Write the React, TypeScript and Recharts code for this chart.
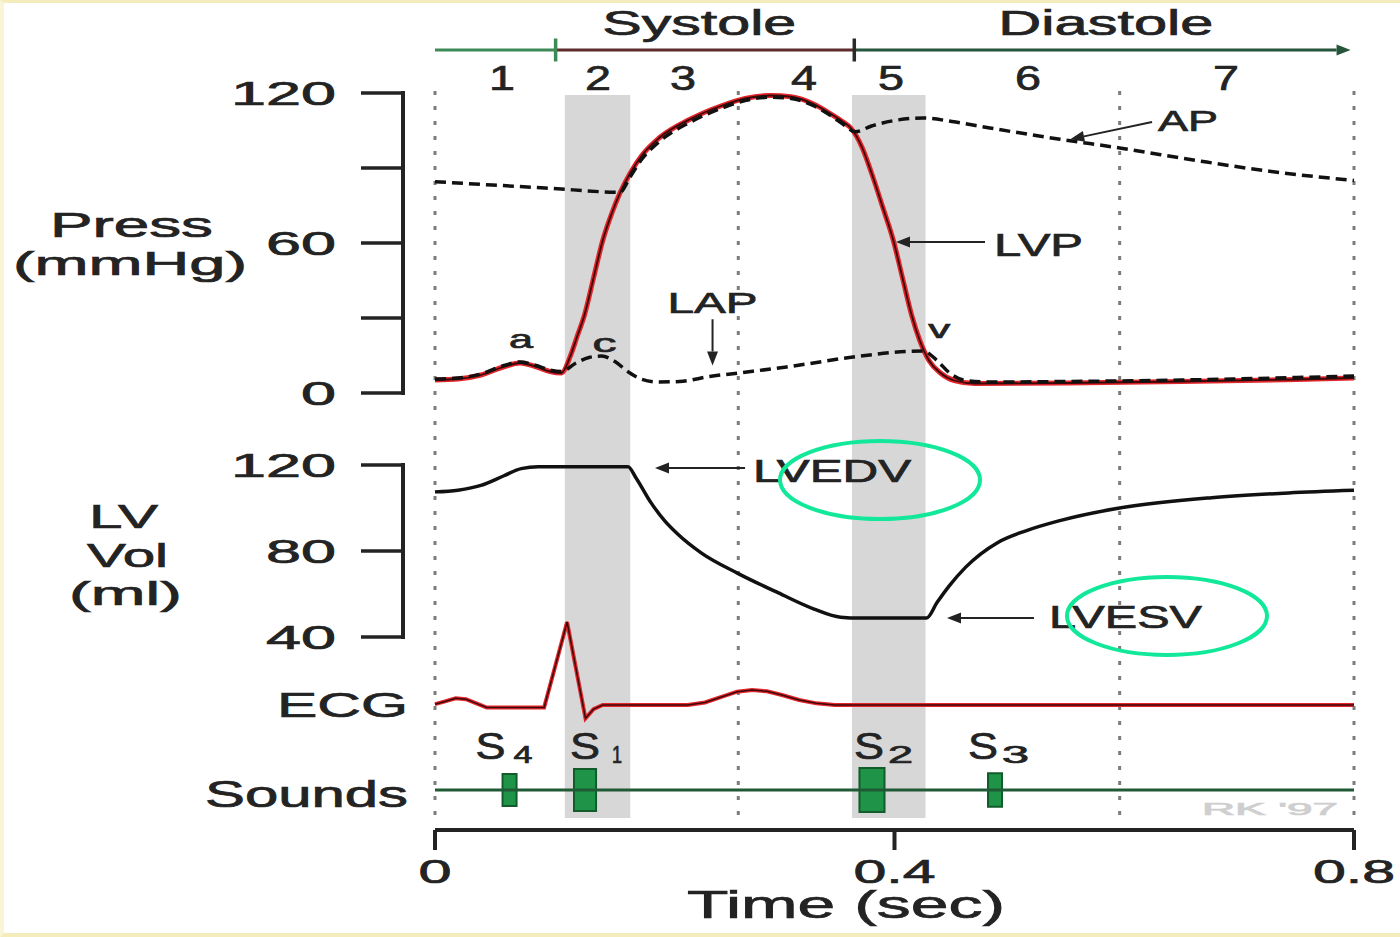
import React from "react";
import {
  ComposedChart,
  Line,
  XAxis,
  YAxis,
  ReferenceLine,
  ReferenceArea,
  ReferenceDot,
} from "recharts";

// ---------- data (time in s) ----------
const LVP_T = [0, 0.02, 0.04, 0.06, 0.074, 0.088, 0.1, 0.11, 0.118, 0.124, 0.13, 0.138, 0.146, 0.154, 0.161, 0.17, 0.18, 0.195, 0.222, 0.25, 0.27, 0.292, 0.31, 0.33, 0.345, 0.355, 0.362, 0.372, 0.38, 0.39, 0.399, 0.407, 0.415, 0.422, 0.43, 0.44, 0.452, 0.47, 0.55, 0.65, 0.75, 0.8];
const LVP = [5.2, 5.6, 7.2, 10.5, 12, 10.5, 8.6, 8, 15, 23, 31, 46, 61, 72, 80, 88, 95, 102, 109.5, 115, 117.8, 119, 118.5, 115.5, 111.5, 108.5, 106, 98, 88, 74, 61, 46, 31, 21, 13, 8, 5, 3.8, 4, 4.6, 5.4, 6];

const AP_T = [0, 0.05, 0.1, 0.161, 0.17, 0.18, 0.195, 0.222, 0.25, 0.27, 0.292, 0.31, 0.33, 0.345, 0.355, 0.366, 0.38, 0.4, 0.425, 0.45, 0.483, 0.544, 0.596, 0.667, 0.728, 0.8];
const AP = [84.5, 83.2, 81.9, 80.3, 86.5, 93.5, 100.5, 108.3, 114, 117, 118.3, 117.8, 114.8, 110.8, 107.6, 104.5, 106.8, 109, 110, 108.6, 106, 101.5, 98, 92.7, 88.6, 85];

const LAP_T = [0, 0.02, 0.04, 0.06, 0.074, 0.088, 0.1, 0.11, 0.122, 0.134, 0.145, 0.157, 0.168, 0.18, 0.195, 0.213, 0.239, 0.264, 0.306, 0.364, 0.41, 0.425, 0.437, 0.448, 0.46, 0.48, 0.55, 0.65, 0.75, 0.8];
const LAP = [5.6, 6, 7.6, 11, 12.4, 11, 9.2, 8.6, 11.8, 14.2, 14.8, 12.5, 8.5, 5.5, 4.4, 4.6, 6.6, 8, 10.4, 14.4, 16.6, 16.8, 13, 8, 5.2, 4.4, 4.6, 5.2, 6.2, 6.8];

const VOL_T = [0, 0.02, 0.04, 0.06, 0.075, 0.09, 0.168, 0.175, 0.188, 0.2, 0.211, 0.232, 0.264, 0.299, 0.33, 0.353, 0.37, 0.428, 0.437, 0.448, 0.462, 0.49, 0.515, 0.543, 0.596, 0.676, 0.743, 0.8];
const VOL = [107.5, 108.3, 110.5, 115, 118.3, 119.2, 119.2, 114, 102.5, 94, 88, 79, 69.5, 60.5, 53, 49.2, 48.8, 48.8, 56, 64, 72.5, 84, 89.5, 94, 100, 104.8, 107, 108.2];

const ECG_T = [0, 0.008, 0.018, 0.027, 0.036, 0.045, 0.06, 0.095, 0.115, 0.131, 0.138, 0.146, 0.22, 0.235, 0.25, 0.263, 0.276, 0.289, 0.302, 0.317, 0.332, 0.348, 0.8];
const ECG = [0.01, 0.04, 0.08, 0.07, 0.02, -0.03, -0.03, -0.03, 1.0, -0.16, -0.05, 0, 0, 0.03, 0.1, 0.16, 0.18, 0.165, 0.12, 0.06, 0.02, 0, 0];

const SOUND_NAMES = ["4", "1", "2", "3"];
const SOUND_T = [0.0649, 0.1306, 0.3804, 0.4875];
const SOUND_DUR = [0.0122, 0.0192, 0.0218, 0.0122];
const SOUND_AMP = [0.76, 1.0, 1.05, 0.8];

const PHASE_EDGES = [0, 0.105, 0.365, 0.797];
const PHASE_NAMES = ["Systole", "Diastole"];
const PHASE_NAME_T = [0.23, 0.584];
const PHASE_NUMS = ["1", "2", "3", "4", "5", "6", "7"];
const PHASE_NUM_T = [0.0583, 0.1419, 0.2159, 0.3212, 0.397, 0.5162, 0.6886];

const SHADE = [
  [0.113, 0.17],
  [0.363, 0.427],
];
const GRID_T = [0, 0.264, 0.596, 0.8];

const P_TICKS = [0, 30, 60, 90, 120];
const P_LABELS = [0, 60, 120];
const V_TICKS = [40, 80, 120];
const TIME_TICKS = [0, 0.4, 0.8];

// ---------- layout ----------
const W = 1400;
const H = 937;
const FONT = '"Liberation Sans", Arial, sans-serif';
const INK = "#232323";
const RED = "#e3262c";
const CORE = "#3d0808";

const T0_PX = 435;
const PX_PER_SEC = 1148.75;
const PLOT_BOTTOM = 830;
const X_MIN = -T0_PX / PX_PER_SEC;
const X_MAX = (W - T0_PX) / PX_PER_SEC;
const pxToT = (px: number) => (px - T0_PX) / PX_PER_SEC;

// each panel gets its own hidden y axis spanning the whole plot height
function bandDomain(refPx: number, refVal: number, pxPerUnit: number): [number, number] {
  return [refVal - (PLOT_BOTTOM - refPx) / pxPerUnit, refVal + refPx / pxPerUnit];
}
const P_DOMAIN = bandDomain(393, 0, 2.5);
const V_DOMAIN = bandDomain(465, 120, 2.15);
const E_DOMAIN = bandDomain(705, 0, 83);
const S_DOMAIN = bandDomain(790, 0, 21);

const AXIS_T = pxToT(403);
const TICK_T = pxToT(361);
const TICK_LABEL_T = pxToT(336);
const PHASE_P = 137.2;

const zip = (ts: number[], vs: number[]) => ts.map((t, i) => ({ t, v: vs[i] }));
const lvpData = zip(LVP_T, LVP);
const apData = zip(AP_T, AP);
const lapData = zip(LAP_T, LAP);
const volData = zip(VOL_T, VOL);
const ecgData = zip(ECG_T, ECG);

const NOTES = [
  { text: "a", axis: "p", t: 0.074, v: 12.3, dx: 1, dy: -14, w: 24, size: 26, anchor: "middle" },
  { text: "c", axis: "p", t: 0.145, v: 14.5, dx: 3, dy: -5, w: 24, size: 26, anchor: "middle" },
  { text: "v", axis: "p", t: 0.425, v: 17, dx: 16, dy: -13, w: 22, size: 26, anchor: "middle" },
  { text: "LAP", axis: "p", t: 0.2416, v: 32, dx: 0, dy: 0, w: 90, size: 30, anchor: "middle" },
  { text: "LVP", axis: "p", t: 0.4788, v: 60.4, dx: 9, dy: 14, w: 89, size: 31, anchor: "start" },
  { text: "AP", axis: "p", t: 0.6242, v: 108.4, dx: 6, dy: 9, w: 60, size: 30, anchor: "start" },
  { text: "LVEDV", axis: "v", t: 0.2699, v: 118.6, dx: 8, dy: 14, w: 158, size: 31, anchor: "start" },
  { text: "LVESV", axis: "v", t: 0.5214, v: 48.8, dx: 15, dy: 10, w: 153, size: 31, anchor: "start" },
];

const ARROWS = [
  { axis: "p", from: [0.2416, 29.5], to: [0.2416, 11] },
  { axis: "p", from: [0.4788, 60.4], to: [0.4013, 60.4] },
  { axis: "p", from: [0.6242, 108.4], to: [0.553, 101.5] },
  { axis: "v", from: [0.2699, 118.6], to: [0.1915, 118.6] },
  { axis: "v", from: [0.5214, 48.8], to: [0.4457, 48.8] },
];

const RINGS = [
  { t: 0.3874, v: 113 },
  { t: 0.6372, v: 49.8 },
];

const SOUND_LABEL_DX = [-34, -15, -18, -27];
const SUB_GAP = [8, 12, 4, 4];
const SUB_W = [19, 10, 25, 27];

function StretchText({ x, y, w, size, text, anchor = "middle", fill = INK }: any) {
  const left = anchor === "middle" ? x - w / 2 : anchor === "end" ? x - w : x;
  return (
    <text
      x={left}
      y={y}
      fontSize={size}
      fontFamily={FONT}
      fill={fill}
      stroke={fill}
      strokeWidth={0.7}
      textLength={w}
      lengthAdjust="spacingAndGlyphs"
    >
      {text}
    </text>
  );
}

function arrowShape(p: any) {
  const { x1, y1, x2, y2 } = p;
  const stroke = p.stroke || INK;
  const ang = Math.atan2(y2 - y1, x2 - x1);
  const len = 14;
  const half = 5.5;
  const bx = x2 - len * Math.cos(ang);
  const by = y2 - len * Math.sin(ang);
  const nx = -Math.sin(ang) * half;
  const ny = Math.cos(ang) * half;
  return (
    <g>
      <line x1={x1} y1={y1} x2={bx} y2={by} stroke={stroke} strokeWidth={p.strokeWidth || 2} />
      <polygon points={`${x2},${y2} ${bx + nx},${by + ny} ${bx - nx},${by - ny}`} fill={stroke} />
    </g>
  );
}

function TimeTick(props: any) {
  const { x, y, payload } = props;
  const label = String(payload.value);
  return <StretchText x={x} y={y + 31} w={label.length === 1 ? 33 : 82} size={33} text={label} />;
}

const lineCommon = { dot: false, activeDot: false, isAnimationActive: false, dataKey: "v" } as const;

export default function App() {
  return (
    <div style={{ position: "absolute", left: 0, top: 0, width: W, height: H, background: "#fff" }}>
      <ComposedChart width={W} height={H} margin={{ top: 0, right: 0, bottom: 0, left: 0 }}>
        <XAxis
          type="number"
          dataKey="t"
          domain={[X_MIN, X_MAX]}
          allowDataOverflow
          ticks={TIME_TICKS}
          interval={0}
          height={H - PLOT_BOTTOM}
          axisLine={false}
          tickSize={20}
          tickLine={{ stroke: INK, strokeWidth: 4 }}
          tick={(p: any) => <TimeTick {...p} />}
        />
        <YAxis yAxisId="p" type="number" hide domain={P_DOMAIN} allowDataOverflow />
        <YAxis yAxisId="v" type="number" hide domain={V_DOMAIN} allowDataOverflow />
        <YAxis yAxisId="e" type="number" hide domain={E_DOMAIN} allowDataOverflow />
        <YAxis yAxisId="s" type="number" hide domain={S_DOMAIN} allowDataOverflow />

        {SHADE.map(([a, b], i) => (
          <ReferenceArea
            key={"sh" + i}
            yAxisId="p"
            x1={a}
            x2={b}
            y1={-170}
            y2={119.2}
            fill="#d7d7d7"
            fillOpacity={1}
            stroke="none"
            ifOverflow="visible"
          />
        ))}
        {GRID_T.map((t) => (
          <ReferenceLine
            key={"g" + t}
            yAxisId="p"
            segment={[{ x: t, y: 120.8 }, { x: t, y: -173.2 }]}
            stroke="#7c7c7c"
            strokeWidth={3}
            strokeDasharray="4 11"
            ifOverflow="visible"
          />
        ))}

        {/* phase bar */}
        {PHASE_EDGES.slice(0, -1).map((t, i) => (
          <ReferenceLine
            key={"ph" + i}
            yAxisId="p"
            segment={[{ x: t, y: PHASE_P }, { x: PHASE_EDGES[i + 1], y: PHASE_P }]}
            stroke={["#3d8a57", "#5e2a2a", "#25553a"][i]}
            strokeWidth={3}
            ifOverflow="visible"
            shape={i === 2 ? arrowShape : undefined}
          />
        ))}
        {PHASE_EDGES.slice(1, 3).map((t, i) => (
          <ReferenceLine
            key={"pt" + i}
            yAxisId="p"
            segment={[{ x: t, y: PHASE_P - 4.6 }, { x: t, y: PHASE_P + 4.6 }]}
            stroke={i === 0 ? "#3d8a57" : "#2a2a2a"}
            strokeWidth={3.5}
            ifOverflow="visible"
          />
        ))}
        {PHASE_NAMES.map((n, i) => (
          <ReferenceDot
            key={n}
            yAxisId="p"
            x={PHASE_NAME_T[i]}
            y={PHASE_P}
            r={0}
            ifOverflow="visible"
            shape={(d: any) => <StretchText x={d.cx} y={d.cy - 15} w={i === 0 ? 194 : 215} size={35} text={n} />}
          />
        ))}
        {PHASE_NUMS.map((n, i) => (
          <ReferenceDot
            key={"n" + n}
            yAxisId="p"
            x={PHASE_NUM_T[i]}
            y={PHASE_P}
            r={0}
            ifOverflow="visible"
            shape={(d: any) => <StretchText x={d.cx} y={d.cy + 40} w={26} size={35} text={n} />}
          />
        ))}

        {/* pressure axis */}
        <ReferenceLine
          yAxisId="p"
          segment={[{ x: AXIS_T, y: 0 }, { x: AXIS_T, y: 120 }]}
          stroke={INK}
          strokeWidth={4}
          strokeLinecap="square"
          ifOverflow="visible"
        />
        {P_TICKS.map((v) => (
          <ReferenceLine
            key={"pk" + v}
            yAxisId="p"
            segment={[{ x: TICK_T, y: v }, { x: AXIS_T, y: v }]}
            stroke={INK}
            strokeWidth={3.5}
            ifOverflow="visible"
          />
        ))}
        {P_LABELS.map((v) => (
          <ReferenceDot
            key={"pl" + v}
            yAxisId="p"
            x={TICK_LABEL_T}
            y={v}
            r={0}
            ifOverflow="visible"
            shape={(d: any) => (
              <StretchText x={d.cx} y={d.cy + 12} w={35 * String(v).length} size={34} text={String(v)} anchor="end" />
            )}
          />
        ))}

        {/* volume axis */}
        <ReferenceLine
          yAxisId="v"
          segment={[{ x: AXIS_T, y: 40 }, { x: AXIS_T, y: 120 }]}
          stroke={INK}
          strokeWidth={4}
          strokeLinecap="square"
          ifOverflow="visible"
        />
        {V_TICKS.map((v) => (
          <ReferenceLine
            key={"vk" + v}
            yAxisId="v"
            segment={[{ x: TICK_T, y: v }, { x: AXIS_T, y: v }]}
            stroke={INK}
            strokeWidth={3.5}
            ifOverflow="visible"
          />
        ))}
        {V_TICKS.map((v) => (
          <ReferenceDot
            key={"vl" + v}
            yAxisId="v"
            x={TICK_LABEL_T}
            y={v}
            r={0}
            ifOverflow="visible"
            shape={(d: any) => (
              <StretchText x={d.cx} y={d.cy + 12} w={35 * String(v).length} size={34} text={String(v)} anchor="end" />
            )}
          />
        ))}

        {/* series */}
        <Line {...lineCommon} yAxisId="p" data={lvpData} type="monotone" stroke={RED} strokeWidth={5} />
        <Line {...lineCommon} yAxisId="p" data={lvpData} type="monotone" stroke={CORE} strokeWidth={1.8} />
        <Line {...lineCommon} yAxisId="p" data={apData} type="monotone" stroke="#111" strokeWidth={3.5} strokeDasharray="11 6" />
        <Line {...lineCommon} yAxisId="p" data={lapData} type="monotone" stroke="#111" strokeWidth={3.5} strokeDasharray="11 6" />
        <Line {...lineCommon} yAxisId="v" data={volData} type="monotone" stroke="#111" strokeWidth={3.5} />
        <Line {...lineCommon} yAxisId="e" data={ecgData} type="linear" stroke={RED} strokeWidth={4} />
        <Line {...lineCommon} yAxisId="e" data={ecgData} type="linear" stroke={CORE} strokeWidth={1.5} />

        {/* heart sounds */}
        {SOUND_T.map((t, i) => (
          <ReferenceArea
            key={"snd" + i}
            yAxisId="s"
            x1={t - SOUND_DUR[i] / 2}
            x2={t + SOUND_DUR[i] / 2}
            y1={-SOUND_AMP[i]}
            y2={SOUND_AMP[i]}
            fill="#1f9448"
            fillOpacity={1}
            stroke="#125c2b"
            strokeWidth={2}
            ifOverflow="visible"
          />
        ))}
        <ReferenceLine
          yAxisId="s"
          segment={[{ x: 0, y: 0 }, { x: 0.8, y: 0 }]}
          stroke="#1f5a34"
          strokeWidth={3}
          ifOverflow="visible"
        />
        {SOUND_NAMES.map((n, i) => (
          <ReferenceDot
            key={"sl" + n}
            yAxisId="s"
            x={SOUND_T[i]}
            y={0}
            r={0}
            ifOverflow="visible"
            shape={(d: any) => {
              const sx = d.cx + SOUND_LABEL_DX[i];
              return (
                <g>
                  <StretchText x={sx} y={d.cy - 31} w={30} size={36} text="S" anchor="start" />
                  <StretchText x={sx + 30 + SUB_GAP[i]} y={d.cy - 27} w={SUB_W[i]} size={23} text={n} anchor="start" />
                </g>
              );
            }}
          />
        ))}

        {/* time axis line */}
        <ReferenceLine
          yAxisId="s"
          segment={[{ x: 0, y: S_DOMAIN[0] }, { x: 0.8, y: S_DOMAIN[0] }]}
          stroke={INK}
          strokeWidth={4}
          ifOverflow="visible"
        />

        {/* annotations */}
        {ARROWS.map((a, i) => (
          <ReferenceLine
            key={"ar" + i}
            yAxisId={a.axis}
            segment={[{ x: a.from[0], y: a.from[1] }, { x: a.to[0], y: a.to[1] }]}
            stroke={INK}
            strokeWidth={2}
            ifOverflow="visible"
            shape={arrowShape}
          />
        ))}
        {NOTES.map((n) => (
          <ReferenceDot
            key={"nt" + n.text}
            yAxisId={n.axis}
            x={n.t}
            y={n.v}
            r={0}
            ifOverflow="visible"
            shape={(d: any) => (
              <StretchText x={d.cx + n.dx} y={d.cy + n.dy} w={n.w} size={n.size} text={n.text} anchor={n.anchor} />
            )}
          />
        ))}
        {RINGS.map((r, i) => (
          <ReferenceDot
            key={"ring" + i}
            yAxisId="v"
            x={r.t}
            y={r.v}
            r={0}
            ifOverflow="visible"
            shape={(d: any) => (
              <ellipse cx={d.cx} cy={d.cy} rx={100} ry={39} fill="none" stroke="#12e89a" strokeWidth={4} />
            )}
          />
        ))}
      </ComposedChart>

      {/* panel titles */}
      <svg width={W} height={H} style={{ position: "absolute", left: 0, top: 0, pointerEvents: "none" }}>
        <StretchText x={131.5} y={237} w={163} size={35} text="Press" />
        <StretchText x={130} y={275} w={234} size={34} text="(mmHg)" />
        <StretchText x={123.5} y={528} w={69} size={34} text="LV" />
        <StretchText x={127.5} y={567} w={81} size={34} text="Vol" />
        <StretchText x={125.5} y={605} w={113} size={34} text="(ml)" />
        <StretchText x={342.5} y={717} w={131} size={35} text="ECG" />
        <StretchText x={306.5} y={807} w={203} size={36} text="Sounds" />
        <StretchText x={846} y={918} w={318} size={39} text="Time (sec)" />
        <StretchText x={1270} y={815} w={136} size={16} text="RK '97" fill="#cfcfcf" />
      </svg>
      <div
        style={{
          position: "absolute",
          left: 0,
          top: 0,
          width: W,
          height: H,
          boxSizing: "border-box",
          borderTop: "3px solid #f4edbb",
          borderLeft: "4px solid #faf5d6",
          borderBottom: "4px solid #f4edbb",
          pointerEvents: "none",
        }}
      />
    </div>
  );
}
